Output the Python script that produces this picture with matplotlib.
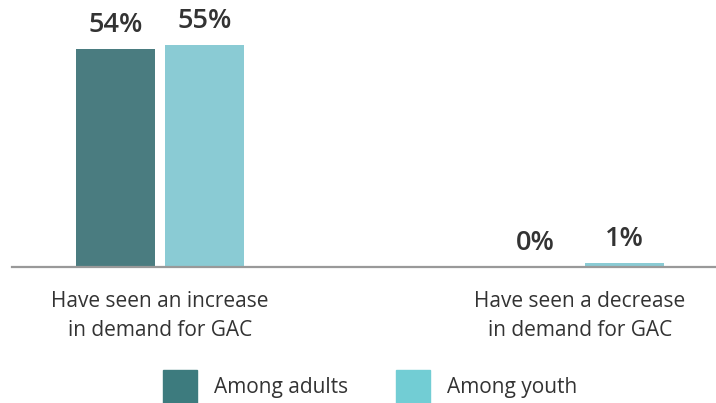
import matplotlib.pyplot as plt
from matplotlib.patches import Patch

categories = ["Have seen an increase\nin demand for GAC", "Have seen a decrease\nin demand for GAC"]
series_names = ["Among adults", "Among youth"]
adults = [54, 0]
youth = [55, 1]

bar_colors = ["#4a7c80", "#8acbd4"]
legend_colors = ["#3d7b7e", "#72cdd4"]
text_color = "#333333"

plt.rcParams["font.family"] = ["Open Sans", "DejaVu Sans"]

fig = plt.figure(figsize=(7.16, 4.03), dpi=100)
ax = fig.add_axes([12 / 716, 1 - 267 / 403, 704 / 716, 242.4 / 403])

x = list(range(len(categories)))
w = 0.188
off = 0.106
b1 = ax.bar([i - off for i in x], adults, width=w, color=bar_colors[0])
b2 = ax.bar([i + off for i in x], youth, width=w, color=bar_colors[1])

for bars, vals in [(b1, adults), (b2, youth)]:
    for rect, v in zip(bars, vals):
        ax.annotate(f"{v}%", (rect.get_x() + rect.get_width() / 2, v),
                    xytext=(0, 7), textcoords="offset points",
                    ha="center", va="bottom", fontsize=19.5,
                    fontweight="semibold", color=text_color)

ax.set_xlim(-0.352, 1.324)
ax.set_ylim(0, 60)
ax.set_xticks(x)
ax.set_xticklabels(categories, fontsize=15, color=text_color, linespacing=1.5)
ax.tick_params(axis="x", length=0, pad=17)
ax.set_yticks([])
for s in ["top", "right", "left"]:
    ax.spines[s].set_visible(False)
ax.spines["bottom"].set_color("#999999")
ax.spines["bottom"].set_linewidth(1.6)

handles = [Patch(color=c) for c in legend_colors]
fig.legend(handles, series_names, loc="lower center", bbox_to_anchor=(0.517, 0),
           ncol=2, frameon=False, fontsize=15, labelcolor=text_color,
           borderaxespad=0, borderpad=0,
           handlelength=1.63, handleheight=2.03, columnspacing=2.3, handletextpad=0.8)

fig.savefig("out.png", dpi=100)
